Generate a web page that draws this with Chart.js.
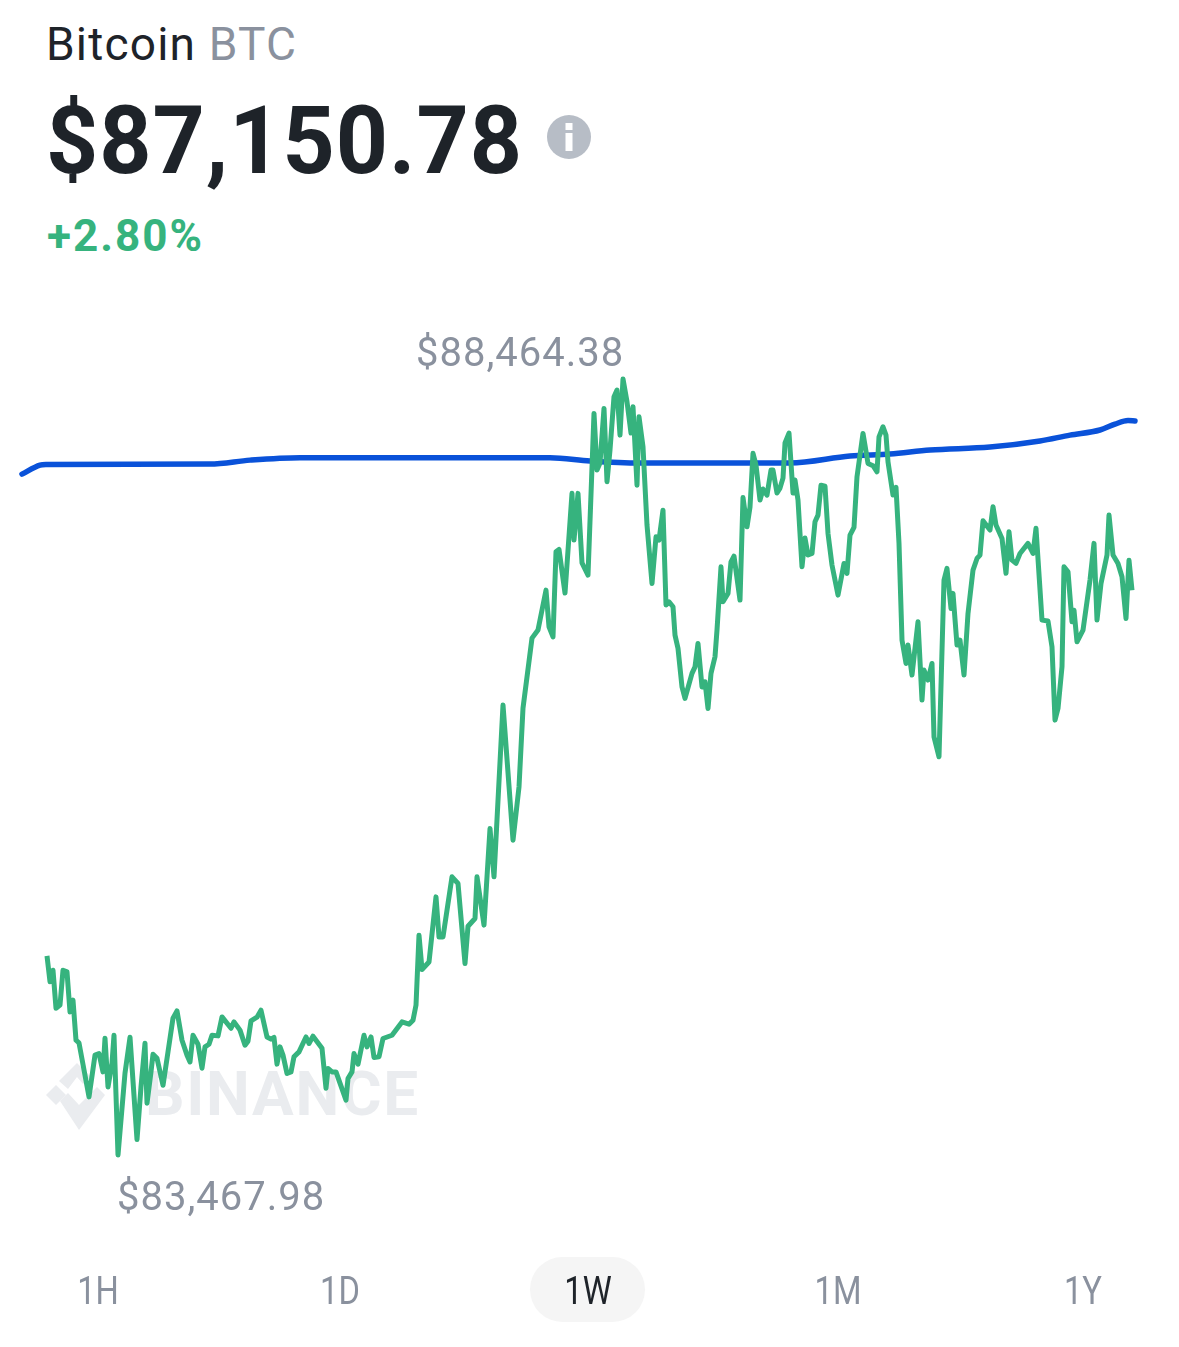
<!DOCTYPE html>
<html>
<head>
<meta charset="utf-8">
<title>Bitcoin BTC</title>
<script src="https://cdn.jsdelivr.net/npm/chart.js@4"></script>
<style>
  html, body { margin: 0; background: #fff; }
  #page { position: relative; width: 1179px; height: 1347px; overflow: hidden; font-family: Roboto, sans-serif; }
  #page > * { position: absolute; white-space: nowrap; }
  canvas { left: 0; top: 0; }
  .name { left: 46px; top: 17px; font-size: 46px; line-height: 54px; color: #1e2329; letter-spacing: 1.2px; }
  .name span { color: #8a919e; }
  .price { left: 46px; top: 87px; font-size: 94px; line-height: 108px; font-weight: 700; color: #1e2329; letter-spacing: 1px; transform: scaleX(0.97); transform-origin: left; }
  .change { left: 47px; top: 210px; font-size: 44px; line-height: 52px; font-weight: 700; color: #36b37e; letter-spacing: 2px; }
  .extreme { font-size: 40px; line-height: 48px; color: #8a919e; letter-spacing: 1px; }
  #high { left: 416px; top: 329px; }
  #low { left: 117px; top: 1173px; }
  .pill { left: 530px; top: 1257px; width: 115px; height: 65px; border-radius: 33px; background: #f5f5f5; }
  .tab { top: 1268px; font-size: 38px; line-height: 46px; color: #8a919e; transform: translateX(-50%) scaleX(0.86); }
  .tab.on { color: #1e2329; }
  .mark { left: 145px; top: 1058px; font-size: 62px; line-height: 72px; font-weight: 700; color: #eaecef; letter-spacing: 1.7px; }
</style>
</head>
<body>
<div id="page">
  <div class="name">Bitcoin <span>BTC</span></div>
  <div class="price">$87,150.78</div>
  <svg style="left:547px;top:115px" width="44" height="44" viewBox="0 0 44 44">
    <circle cx="22" cy="22" r="22" fill="#b7bdc6"/>
    <rect x="18.5" y="8" width="7" height="7" fill="#fff"/>
    <rect x="18.5" y="18" width="7" height="18" fill="#fff"/>
  </svg>
  <div class="change">+2.80%</div>
  <svg style="left:45px;top:1062px" width="100" height="70" viewBox="0 0 100 70" fill="#eaecef">
    <polygon points="1,33 11,23 21,33 11,43"/>
    <polygon points="14,19 32,1 46,15 38,22 32,15 23,27"/>
    <polygon points="15,39 23,31 34,43 52,25 60,33 34,68"/>
  </svg>
  <div class="mark">BINANCE</div>
  <div class="pill"></div>
  <canvas id="chart" width="1179" height="1347"></canvas>
  <div class="extreme" id="high"></div>
  <div class="extreme" id="low"></div>
</div>

<script>
const highLabel = "$88,464.38";
const lowLabel = "$83,467.98";
const rangeLabels = ["1H", "1D", "1W", "1M", "1Y"];
const rangeCenters = [98, 340, 588, 838, 1083];
const activeRange = "1W";

// time runs left to right, no axis in the picture so the unit is arbitrary
const priceTimes = [
  0, 3, 6, 9, 13, 16, 20, 23, 26, 29, 32, 42, 48, 52, 56, 58, 61, 65, 67, 71,
  78, 83, 90, 94, 98, 100, 104, 106, 110, 116, 121, 126, 130, 135, 140, 143, 146, 151, 155, 158,
  162, 165, 171, 175, 184, 187, 193, 198, 201, 204, 210, 214, 220, 224, 227, 230, 233, 236, 240, 244,
  247, 252, 259, 262, 266, 275, 279, 281, 285, 289, 299, 301, 305, 307, 311, 317, 320, 324, 327, 332,
  336, 345, 355, 362, 366, 369, 372, 375, 382, 389, 392, 396, 405, 411, 418, 421, 428, 430, 437, 443,
  447, 456, 466, 472, 476, 485, 491, 499, 502, 506, 509, 512, 518, 525, 527, 531, 535, 541, 547, 550,
  553, 557, 560, 563, 567, 570, 573, 576, 580, 584, 586, 590, 592, 596, 600, 605, 609, 612, 616, 619,
  622, 626, 628, 631, 635, 638, 645, 648, 651, 655, 658, 661, 664, 668, 670, 674, 676, 681, 684, 687,
  693, 696, 700, 703, 706, 709, 713, 716, 720, 724, 726, 730, 733, 736, 738, 742, 746, 748, 751, 755,
  758, 761, 765, 768, 771, 774, 778, 781, 785, 791, 797, 800, 803, 807, 810, 816, 821, 826, 830, 832,
  836, 839, 841, 846, 849, 852, 855, 859, 861, 865, 871, 875, 877, 881, 885, 887, 892, 897, 900, 904,
  906, 910, 913, 917, 921, 926, 930, 933, 936, 943, 946, 949, 955, 959, 962, 965, 969, 973, 981, 986,
  989, 995, 1001, 1005, 1008, 1011, 1015, 1017, 1021, 1025, 1027, 1030, 1036, 1043, 1047, 1050, 1054, 1060, 1062, 1066,
  1071, 1075, 1079, 1082, 1085
];

const prices = [
  84750, 84583, 84658, 84413, 84433, 84658, 84647, 84389, 84465, 84207, 84190, 83842, 84111, 84121, 84003, 84220, 83906, 84059, 84239, 83468,
  83995, 84226, 83568, 83906, 84188, 83801, 84003, 84117, 84091, 83917, 84132, 84349, 84396, 84207, 84111, 84067, 84239, 84181, 84027, 84164,
  84181, 84239, 84235, 84357, 84284, 84325, 84272, 84175, 84201, 84331, 84355, 84400, 84228, 84214, 84225, 84053, 84164, 84111, 83993, 84003,
  84100, 84132, 84228, 84186, 84233, 84156, 83898, 84025, 84003, 84003, 83821, 83960, 84003, 84121, 84053, 84239, 84164, 84228, 84096, 84100,
  84218, 84239, 84325, 84310, 84336, 84433, 84883, 84662, 84711, 85130, 84872, 84872, 85259, 85216, 84701, 84941, 84991, 85259, 84948, 85570,
  85259, 86365, 85495, 85838, 86345, 86796, 86848, 87105, 86869, 86804, 87352, 87367, 87086, 87728, 87427, 87728, 87281, 87202, 88243, 87878,
  87923, 88275, 87803, 88007, 88350, 88393, 88103, 88464, 88318, 88116, 88286, 87781, 88221, 88028, 87524, 87148, 87448, 87427, 87620, 87009,
  87030, 86998, 86815, 86730, 86482, 86408, 86569, 86611, 86762, 86482, 86515, 86343, 86569, 86676, 86848, 87255, 87030, 87084, 87287, 87324,
  87041, 87701, 87513, 87640, 87986, 87910, 87685, 87756, 87717, 87878, 87878, 87730, 87762, 87826, 88052, 88116, 87730, 87814, 87685, 87255,
  87440, 87331, 87341, 87545, 87588, 87781, 87775, 87470, 87266, 87073, 87277, 87213, 87459, 87509, 87835, 88114, 87921, 87906, 87867, 88092,
  88157, 88103, 87931, 87717, 87767, 87406, 86783, 86633, 86751, 86558, 86901, 86397, 86590, 86526, 86633, 86160, 86032, 87170, 87245, 86987,
  87084, 86751, 86783, 86558, 86955, 87234, 87309, 87331, 87551, 87492, 87642, 87524, 87438, 87213, 87481, 87298, 87277, 87341, 87406, 87341,
  87503, 86912, 86906, 86740, 86268, 86343, 86611, 87255, 87223, 86901, 86976, 86772, 86848, 87170, 87406, 86912, 87148, 87331, 87588, 87331,
  87277, 87191, 86923, 87298, 87105
];

const avgTimes = [-25, -7, -1, 163, 203, 253, 503, 543, 593, 743, 803, 843, 883, 943, 993, 1023, 1053, 1068, 1081, 1088];
const avgPrices = [87852, 87910, 87914, 87917, 87942, 87958, 87958, 87936, 87923, 87923, 87968, 87981, 88007, 88026, 88065, 88103, 88136, 88174, 88197, 88194];

const priceLow = 83467.98;
const priceHigh = 88464.38;

document.getElementById("high").textContent = highLabel;
document.getElementById("low").textContent = lowLabel;

const page = document.getElementById("page");
rangeLabels.forEach((label, i) => {
  const tab = document.createElement("div");
  tab.className = label === activeRange ? "tab on" : "tab";
  tab.style.left = rangeCenters[i] + "px";
  tab.textContent = label;
  page.appendChild(tab);
});

new Chart(document.getElementById("chart"), {
  type: "line",
  data: {
    datasets: [
      {
        label: "BTC",
        data: priceTimes.map((t, i) => ({ x: t, y: prices[i] })),
        borderColor: "#36b37e",
        borderWidth: 5,
        borderJoinStyle: "round",
        pointRadius: 0,
        tension: 0,
        clip: false,
      },
      {
        label: "Average",
        data: avgTimes.map((t, i) => ({ x: t, y: avgPrices[i] })),
        borderColor: "#0a52d9",
        borderWidth: 5.5,
        borderCapStyle: "round",
        pointRadius: 0,
        cubicInterpolationMode: "monotone",
        clip: false,
      },
    ],
  },
  options: {
    responsive: false,
    animation: false,
    layout: { padding: { left: 22, right: 44, top: 379, bottom: 192 } },
    plugins: { legend: { display: false }, tooltip: { enabled: false } },
    scales: {
      x: { type: "linear", display: false, min: -25, max: 1088 },
      y: { type: "linear", display: false, min: priceLow, max: priceHigh },
    },
  },
});
</script>
</body>
</html>
